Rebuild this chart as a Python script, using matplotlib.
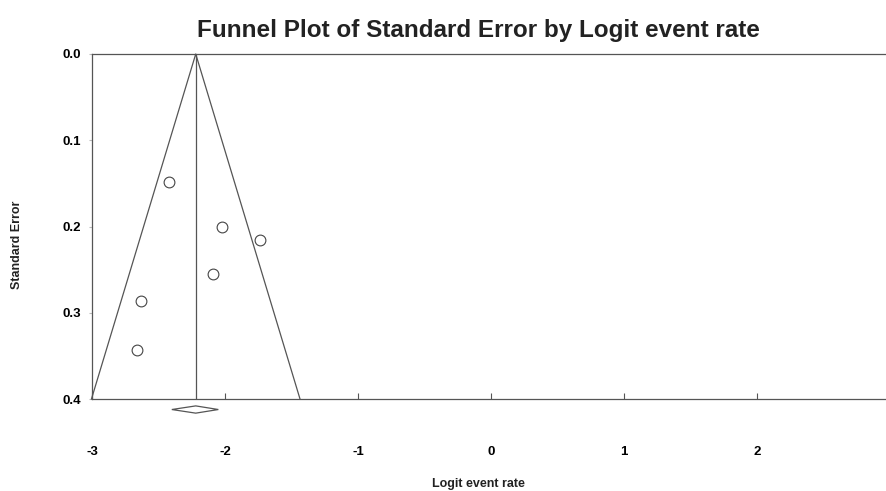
import numpy as np
import matplotlib.pyplot as plt

plt.rcParams['font.family'] = ['Liberation Sans', 'DejaVu Sans']

# study points
logit = [-2.42, -2.02, -1.74, -2.09, -2.63, -2.66]
se = [0.148, 0.200, 0.216, 0.255, 0.286, 0.343]

# pooled estimate and its CI
center = -2.22
ci_low, ci_high = -2.40, -2.05
se_max = 0.4

xticks = [-3, -2, -1, 0, 1, 2, 3]
yticks = [0.0, 0.1, 0.2, 0.3, 0.4]

W, H = 886, 491
fig = plt.figure(figsize=(W / 100, H / 100), dpi=100)
ax = fig.add_axes([92 / W, 1 - 399 / H, (890 - 92) / W, (399 - 54) / H])

lc = '#555555'
# funnel
ax.plot([center - 1.96 * se_max, center, center + 1.96 * se_max], [se_max, 0, se_max],
        color=lc, lw=0.9, clip_on=False)
ax.plot([center, center], [0, se_max], color=lc, lw=0.9)

ax.scatter(logit, se, s=60, facecolors='white', edgecolors='#444444', linewidths=0.8, zorder=3)

# diamond under the axis
dy = 0.0042
yd = se_max + 0.0122
ax.fill([ci_low, center, ci_high, center], [yd, yd - dy, yd, yd + dy],
        facecolor='white', edgecolor=lc, lw=0.9, clip_on=False, zorder=4)

ax.set_xlim(-3, 3)
ax.set_ylim(0.4, 0.0)
ax.set_xticks(xticks)
ax.set_yticks(yticks)
ax.set_xticklabels([str(t) for t in xticks], fontsize=9.5, fontweight='bold')
ax.set_yticklabels(['%.1f' % t for t in yticks], fontsize=9.5, fontweight='bold')
ax.tick_params(axis='x', direction='in', length=4, width=0.8, color=lc, pad=34)
ax.tick_params(axis='y', direction='out', length=2, width=0.8, color='#bbbbbb', pad=6)

for s in ['left', 'top', 'bottom']:
    ax.spines[s].set_color(lc)
    ax.spines[s].set_linewidth(0.9)
ax.spines['right'].set_visible(False)

fig.text(478 / W, 1 - 30 / H, 'Funnel Plot of Standard Error by Logit event rate',
         ha='center', va='center', fontsize=17.5, fontweight='bold', color='#222222')
fig.text(17 / W, 1 - 245 / H, 'Standard Error', rotation=90, ha='center', va='center',
         fontsize=9, fontweight='bold', color='#222222')
fig.text(478 / W, 1 - 484 / H, 'Logit event rate', ha='center', va='center',
         fontsize=9, fontweight='bold', color='#222222')

fig.savefig('out.png', dpi=100)
